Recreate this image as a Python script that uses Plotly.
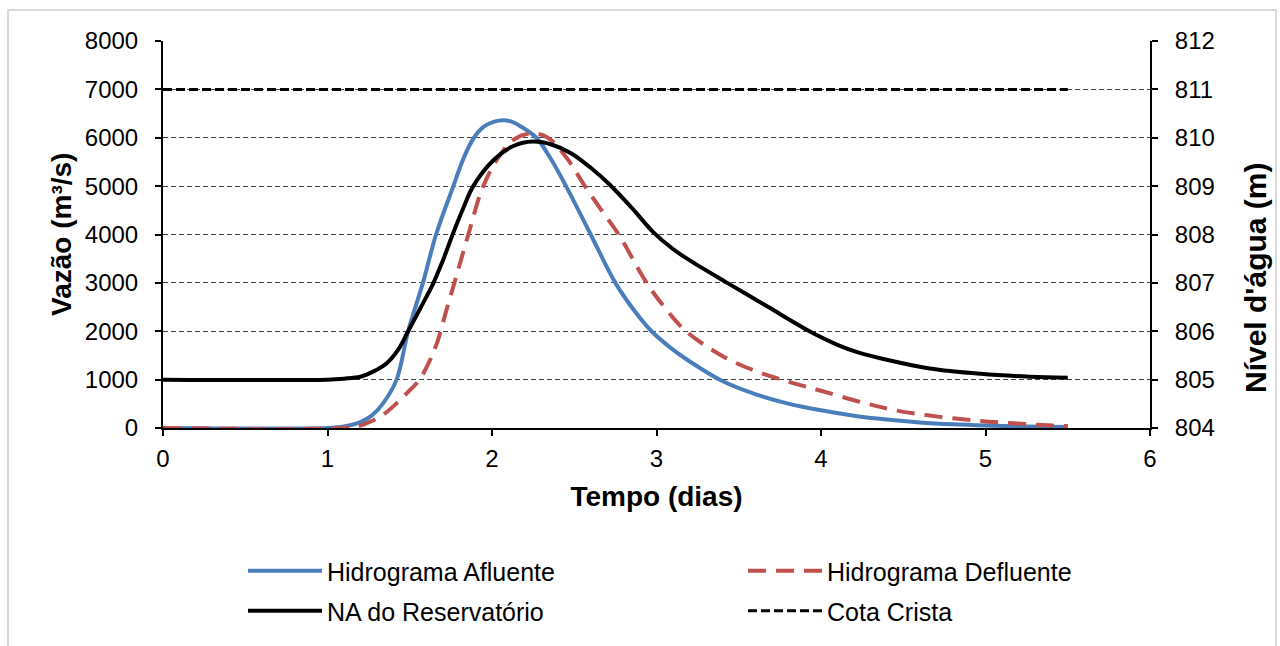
import plotly.graph_objects as go

# ---- data ----
t_afl = [0, 1.0, 1.1, 1.2, 1.27, 1.34, 1.42, 1.49, 1.58, 1.66, 1.765, 1.83, 1.89, 1.95, 2.01,
         2.07, 2.13, 2.2, 2.27, 2.36, 2.45, 2.60, 2.75, 2.86, 2.97, 3.1, 3.2, 3.4, 3.6, 3.8, 4.0,
         4.2, 4.4, 4.6, 4.8, 5.0, 5.25, 5.5]
q_afl = [0, 0, 30, 120, 260, 520, 1000, 2000, 3000, 4000, 5000, 5600, 6000, 6230, 6330,
         6360, 6320, 6180, 6000, 5550, 5000, 4000, 3000, 2450, 2000, 1620, 1380, 970, 700, 505, 365,
         255, 175, 115, 75, 50, 30, 20]

t_def = [0, 1.1, 1.2, 1.26, 1.34, 1.42, 1.5, 1.56, 1.62, 1.67, 1.72, 1.78, 1.856, 1.947, 2.05,
         2.14, 2.24, 2.34, 2.45, 2.565, 2.67, 2.77, 2.94, 3.06, 3.18, 3.41, 3.61, 3.81, 4.01, 4.26,
         4.46, 4.70, 4.95, 5.17, 5.41, 5.5]
q_def = [0, 0, 50, 130, 280, 510, 780, 1000, 1380, 1800, 2400, 3100, 4000, 5000, 5650,
         5980, 6090, 6000, 5600, 5000, 4480, 4000, 3000, 2450, 2000, 1470, 1170, 950, 760, 520,
         360, 240, 150, 97, 50, 40]

t_na = [0, 1.0, 1.1, 1.2, 1.28, 1.36, 1.43, 1.49, 1.565, 1.64, 1.7, 1.755, 1.82, 1.886, 2.01,
        2.13, 2.25, 2.37, 2.48, 2.6, 2.71, 2.85, 2.98, 3.1, 3.2, 3.43, 3.68, 3.93, 4.1, 4.22, 4.4,
        4.66, 4.97, 5.27, 5.5]
na = [805, 805, 805.02, 805.06, 805.17, 805.34, 805.62, 806.0, 806.48, 806.97, 807.45, 807.95,
      808.5, 809.0, 809.54, 809.83, 809.92, 809.85, 809.68, 809.38, 809.05, 808.55, 808.05, 807.7,
      807.47, 807.0, 806.5, 806.0, 805.72, 805.57, 805.41, 805.23, 805.12, 805.06, 805.04]

t_cota = [0, 5.5]
cota = [811, 811]

x_ticks = [0, 1, 2, 3, 4, 5, 6]

FONT = "Liberation Sans, Arial, sans-serif"

# plot-area geometry (px) used for paper-coordinate placement of legends / titles / frame
L, R, T, B = 163, 1150, 41, 428
PW, PH = R - L, B - T


def px_x(p):
    return (p - L) / PW


def px_y(p):
    return (B - p) / PH


SPL = dict(shape="spline", smoothing=1.0)

fig = go.Figure()
fig.add_trace(go.Scatter(x=t_afl, y=q_afl, mode="lines", name="Hidrograma Afluente",
                         line=dict(color="#4a7ebb", width=4, **SPL), legend="legend",
                         showlegend=True))
fig.add_trace(go.Scatter(x=t_def, y=q_def, mode="lines", name="Hidrograma Defluente",
                         line=dict(color="#c0504d", width=4, dash="18px,10px", **SPL),
                         legend="legend2", showlegend=True))
fig.add_trace(go.Scatter(x=t_na, y=na, mode="lines", name="NA do Reservatório", yaxis="y2",
                         line=dict(color="#000000", width=4, **SPL), legend="legend3",
                         showlegend=True))
fig.add_trace(go.Scatter(x=t_cota, y=cota, mode="lines", name="Cota Crista", yaxis="y2",
                         line=dict(color="#000000", width=3, dash="9px,4px"), legend="legend4",
                         showlegend=True))

axis_common = dict(showline=True, linecolor="black", linewidth=2, ticks="outside",
                   ticklen=6, tickwidth=2, tickcolor="black",
                   tickfont=dict(family=FONT, size=24, color="black"))

legend_common = dict(orientation="h", xanchor="left", yanchor="top",
                     itemwidth=74, bgcolor="rgba(0,0,0,0)",
                     font=dict(family=FONT, size=25, color="black"))

fig.update_layout(
    width=1280, height=646,
    showlegend=True,
    margin=dict(l=L, r=1280 - R, t=T, b=646 - B, autoexpand=False),
    paper_bgcolor="white", plot_bgcolor="white",
    xaxis=dict(range=[0, 6], tickvals=x_ticks, ticktext=[str(v) for v in x_ticks],
               showgrid=False, zeroline=False, layer="below traces", ticklabelstandoff=2,
               title=dict(text="<b>Tempo (dias)</b>", font=dict(family=FONT, size=28, color="black"),
                          standoff=16),
               **axis_common),
    yaxis=dict(range=[0, 8000], dtick=1000, showgrid=True, gridcolor="#404040", gridwidth=1,
               griddash="5px,3px", zeroline=False, layer="below traces", ticklabelstandoff=12,
               **axis_common),
    yaxis2=dict(range=[804, 812], dtick=1, overlaying="y", side="right", showgrid=False,
                zeroline=False, layer="below traces", ticklabelstandoff=12,
                **axis_common),
    legend=dict(x=px_x(243), y=px_y(548), **legend_common),
    legend2=dict(x=px_x(743), y=px_y(548), **legend_common),
    legend3=dict(x=px_x(243), y=px_y(588), **legend_common),
    legend4=dict(x=px_x(743), y=px_y(588), **legend_common),
    annotations=[
        dict(text="<b>Vazão (m³/s)</b>", textangle=-90, xref="paper", yref="paper",
             x=px_x(62), y=px_y(235), xanchor="center", yanchor="middle", showarrow=False,
             font=dict(family=FONT, size=28, color="black")),
        dict(text="<b>Nível d'água (m)</b>", textangle=-90, xref="paper", yref="paper",
             x=px_x(1255), y=px_y(278), xanchor="center", yanchor="middle", showarrow=False,
             font=dict(family=FONT, size=30, color="black")),
    ],
    shapes=[dict(type="rect", xref="paper", yref="paper",
                 x0=px_x(8), x1=px_x(1276), y0=px_y(700), y1=px_y(10),
                 line=dict(color="#d9d9d9", width=2), fillcolor="rgba(0,0,0,0)", layer="below")],
)

fig.write_html("out.html")
